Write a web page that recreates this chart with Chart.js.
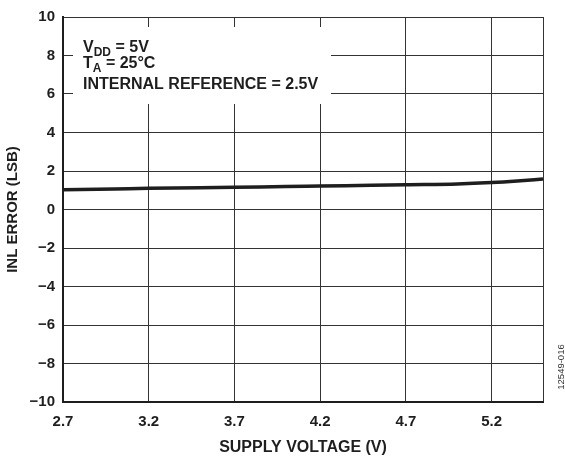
<!DOCTYPE html>
<html>
<head>
<meta charset="utf-8">
<script src="https://cdn.jsdelivr.net/npm/chart.js@4"></script>
<style>
  html, body { margin: 0; padding: 0; background: #fff; }
  #wrap { width: 565px; height: 461px; position: relative; }
</style>
</head>
<body>
<div id="wrap"><canvas id="inlChart"></canvas></div>
<script>
// INL error vs supply voltage
const supplyVoltage = [2.7, 3.0, 3.2, 3.5, 3.7, 4.0, 4.2, 4.5, 4.7, 5.0, 5.2, 5.35, 5.5];
const inlError = [1.03, 1.07, 1.10, 1.13, 1.16, 1.19, 1.22, 1.26, 1.29, 1.33, 1.40, 1.48, 1.58];
const xTicks = [2.7, 3.2, 3.7, 4.2, 4.7, 5.2, 5.5];
const yTicks = [-10, -8, -6, -4, -2, 0, 2, 4, 6, 8, 10];
const noteLines = [
    { main: 'V', sub: 'DD', rest: ' = 5V' },
    { main: 'T', sub: 'A', rest: ' = 25°C' },
    { main: 'INTERNAL REFERENCE = 2.5V', sub: '', rest: '' },
];
const figureCode = '12549-016';

const FONT = '"Liberation Sans", Arial, sans-serif';
const INK = '#1e1e1e';

const notePlugin = {
    id: 'notePlugin',
    beforeDatasetsDraw(chart) {
        const ctx = chart.ctx;
        ctx.save();
        ctx.fillStyle = '#fff';
        ctx.fillRect(73, 27, 258, 77);
        ctx.fillStyle = INK;
        ctx.textBaseline = 'alphabetic';
        const baselines = [52, 68, 89];
        noteLines.forEach((ln, i) => {
            let x = 83;
            ctx.font = 'bold 16px ' + FONT;
            ctx.fillText(ln.main, x, baselines[i]);
            x += ctx.measureText(ln.main).width;
            if (ln.sub) {
                ctx.font = 'bold 12px ' + FONT;
                ctx.fillText(ln.sub, x, baselines[i] + 4);
                x += ctx.measureText(ln.sub).width;
                ctx.font = 'bold 16px ' + FONT;
                ctx.fillText(ln.rest, x, baselines[i]);
            }
        });
        ctx.restore();
    },
    afterDraw(chart) {
        const ctx = chart.ctx;
        ctx.save();
        ctx.translate(561, 367);
        ctx.rotate(-Math.PI / 2);
        ctx.font = '9.5px ' + FONT;
        ctx.fillStyle = '#333';
        ctx.textAlign = 'center';
        ctx.textBaseline = 'middle';
        ctx.fillText(figureCode, 0, 0);
        ctx.restore();
    }
};

new Chart(document.getElementById('inlChart'), {
    type: 'line',
    data: {
        datasets: [{
            data: supplyVoltage.map((v, i) => ({ x: v, y: inlError[i] })),
            borderColor: INK,
            borderWidth: 3.5,
            pointRadius: 0,
            cubicInterpolationMode: 'monotone',
            fill: false,
        }],
    },
    options: {
        responsive: true,
        maintainAspectRatio: false,
        animation: false,
        layout: { padding: { top: 16, right: 22, left: 0, bottom: 0 } },
        plugins: {
            legend: { display: false },
            tooltip: { enabled: false },
        },
        scales: {
            x: {
                type: 'linear',
                min: 2.7,
                max: 5.5,
                afterBuildTicks: (scale) => { scale.ticks = xTicks.map(v => ({ value: v })); },
                afterFit: (scale) => { scale.height = 59; },
                grid: { color: '#333', lineWidth: 1, drawTicks: false },
                border: { color: INK, width: 2 },
                ticks: {
                    padding: 11,
                    maxRotation: 0,
                    autoSkip: false,
                    color: INK,
                    font: { family: FONT, size: 15, weight: 'bold' },
                    callback: (v) => (v === 5.5 ? '' : v.toFixed(1)),
                },
                title: {
                    display: true,
                    text: 'SUPPLY VOLTAGE (V)',
                    color: INK,
                    font: { family: FONT, size: 16, weight: 'bold' },
                    padding: { top: 7 },
                },
            },
            y: {
                min: -10,
                max: 10,
                afterBuildTicks: (scale) => { scale.ticks = yTicks.map(v => ({ value: v })); },
                afterFit: (scale) => { scale.width = 63; },
                grid: { color: '#333', lineWidth: 1, drawTicks: false },
                border: { color: INK, width: 2 },
                ticks: {
                    padding: 8,
                    autoSkip: false,
                    color: INK,
                    font: { family: FONT, size: 15, weight: 'bold' },
                    callback: (v) => (v < 0 ? '\u2212' + Math.abs(v) : String(v)),
                },
                title: {
                    display: true,
                    text: 'INL ERROR (LSB)',
                    color: INK,
                    font: { family: FONT, size: 15, weight: 'bold' },
                    padding: { bottom: 2 },
                },
            },
        },
    },
    plugins: [notePlugin],
});
</script>
</body>
</html>
